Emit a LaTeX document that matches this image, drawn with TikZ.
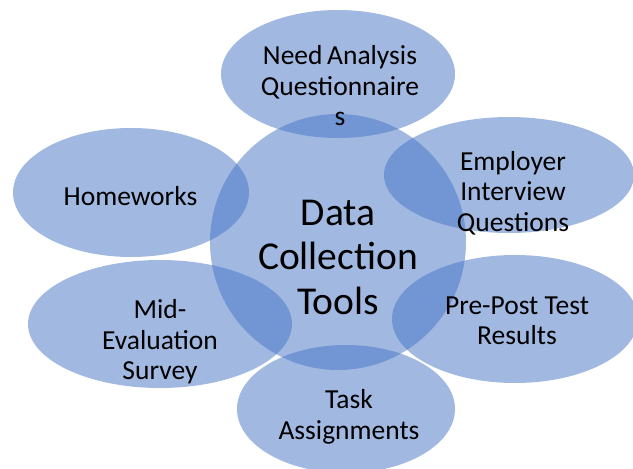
\documentclass[tikz,border=0pt]{standalone}
\usepackage{fontspec}
\setmainfont{Carlito}
\usetikzlibrary{shapes.geometric}
\definecolor{bubbleblue}{HTML}{4472C4}
\begin{document}
\begin{tikzpicture}[x=1pt,y=-1pt,
  bubble/.style={ellipse, fill=bubbleblue, fill opacity=0.5, draw=none, inner sep=0pt},
  lbl/.style={align=center, text=black, inner sep=0pt, font=\fontsize{27.5}{30.5}\selectfont},
  hublbl/.style={align=center, text=black, inner sep=0pt, font=\fontsize{39.5}{44.5}\selectfont}]
\useasboundingbox (0,0) rectangle (633,469);

% central circle and the six surrounding ellipses
\node[bubble, minimum width=256pt, minimum height=256pt] (hub) at (338,242) {};
\node[bubble, minimum width=234pt, minimum height=128pt] (need) at (338,74) {};
\node[bubble, minimum width=250pt, minimum height=116pt] (employer) at (509,175) {};
\node[bubble, minimum width=246pt, minimum height=128pt] (prepost) at (515,319) {};
\node[bubble, minimum width=218pt, minimum height=128pt] (task) at (346,409) {};
\node[bubble, minimum width=264pt, minimum height=128pt] (mid) at (160,324) {};
\node[bubble, minimum width=236pt, minimum height=129pt] (home) at (131,192.5) {};

% labels
\node[hublbl] (hubtext) at (338,257) {Data\\Collection\\Tools};
\node[lbl] (needtext) at (340,86) {Need\,Analysis\\Questionnaire\\s};
\node[lbl] (employertext) at (513,193) {Employer\\Interview\\Questions};
\node[lbl] (prepostext) at (517,321) {Pre-Post Test\\Results};
\node[lbl] (tasktext) at (349,417) {Task\\Assignments};
\node[lbl] (midtext) at (160,342) {Mid-\\Evaluation\\Survey};
\node[lbl, anchor=base] (hometext) at (130.5,205) {Homeworks};
\end{tikzpicture}
\end{document}
